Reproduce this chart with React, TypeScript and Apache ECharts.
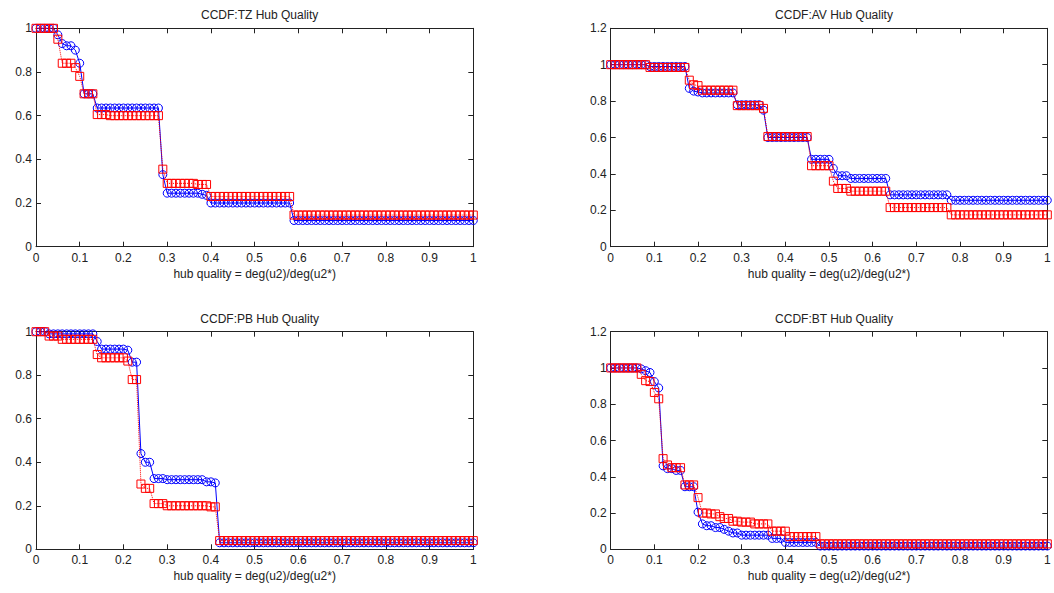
import React, { useEffect, useRef } from 'react';
import * as echarts from 'echarts';

// x sample positions (hub quality)
const hubQuality = [
  0, 0.01, 0.02, 0.03, 0.04, 0.05, 0.06, 0.07, 0.08, 0.09,
  0.1, 0.11, 0.12, 0.13, 0.14, 0.15, 0.16, 0.17, 0.18, 0.19,
  0.2, 0.21, 0.22, 0.23, 0.24, 0.25, 0.26, 0.27, 0.28, 0.29,
  0.3, 0.31, 0.32, 0.33, 0.34, 0.35, 0.36, 0.37, 0.38, 0.39,
  0.4, 0.41, 0.42, 0.43, 0.44, 0.45, 0.46, 0.47, 0.48, 0.49,
  0.5, 0.51, 0.52, 0.53, 0.54, 0.55, 0.56, 0.57, 0.58, 0.59,
  0.6, 0.61, 0.62, 0.63, 0.64, 0.65, 0.66, 0.67, 0.68, 0.69,
  0.7, 0.71, 0.72, 0.73, 0.74, 0.75, 0.76, 0.77, 0.78, 0.79,
  0.8, 0.81, 0.82, 0.83, 0.84, 0.85, 0.86, 0.87, 0.88, 0.89,
  0.9, 0.91, 0.92, 0.93, 0.94, 0.95, 0.96, 0.97, 0.98, 0.99,
  1,
];

const tzBlue = [
  1, 1, 1, 1, 1, 0.97, 0.93, 0.92, 0.92, 0.9,
  0.84, 0.7, 0.7, 0.7, 0.635, 0.635, 0.635, 0.635, 0.635, 0.635,
  0.635, 0.635, 0.635, 0.635, 0.635, 0.635, 0.635, 0.635, 0.635, 0.33,
  0.245, 0.245, 0.245, 0.245, 0.245, 0.245, 0.245, 0.245, 0.24, 0.235,
  0.2, 0.2, 0.2, 0.2, 0.2, 0.2, 0.2, 0.2, 0.2, 0.2,
  0.2, 0.2, 0.2, 0.2, 0.2, 0.2, 0.2, 0.2, 0.2, 0.12,
  0.12, 0.12, 0.12, 0.12, 0.12, 0.12, 0.12, 0.12, 0.12, 0.12,
  0.12, 0.12, 0.12, 0.12, 0.12, 0.12, 0.12, 0.12, 0.12, 0.12,
  0.12, 0.12, 0.12, 0.12, 0.12, 0.12, 0.12, 0.12, 0.12, 0.12,
  0.12, 0.12, 0.12, 0.12, 0.12, 0.12, 0.12, 0.12, 0.12, 0.12,
  0.12,
];
const tzRed = [
  1, 1, 1, 1, 1, 0.95, 0.84, 0.84, 0.84, 0.82,
  0.78, 0.7, 0.7, 0.7, 0.605, 0.605, 0.605, 0.6, 0.6, 0.6,
  0.6, 0.6, 0.6, 0.6, 0.6, 0.6, 0.6, 0.6, 0.6, 0.355,
  0.29, 0.29, 0.29, 0.29, 0.29, 0.29, 0.29, 0.285, 0.285, 0.285,
  0.23, 0.23, 0.23, 0.23, 0.23, 0.23, 0.23, 0.23, 0.23, 0.23,
  0.23, 0.23, 0.23, 0.23, 0.23, 0.23, 0.23, 0.23, 0.23, 0.145,
  0.145, 0.145, 0.145, 0.145, 0.145, 0.145, 0.145, 0.145, 0.145, 0.145,
  0.145, 0.145, 0.145, 0.145, 0.145, 0.145, 0.145, 0.145, 0.145, 0.145,
  0.145, 0.145, 0.145, 0.145, 0.145, 0.145, 0.145, 0.145, 0.145, 0.145,
  0.145, 0.145, 0.145, 0.145, 0.145, 0.145, 0.145, 0.145, 0.145, 0.145,
  0.145,
];

const avBlue = [
  1, 1, 1, 1, 1, 1, 1, 1, 1, 0.99,
  0.99, 0.99, 0.99, 0.99, 0.99, 0.99, 0.99, 0.99, 0.87, 0.855,
  0.85, 0.845, 0.845, 0.845, 0.845, 0.845, 0.845, 0.845, 0.845, 0.78,
  0.78, 0.78, 0.78, 0.78, 0.78, 0.75, 0.6, 0.6, 0.6, 0.6,
  0.6, 0.6, 0.6, 0.6, 0.6, 0.6, 0.48, 0.48, 0.48, 0.48,
  0.48, 0.43, 0.39, 0.39, 0.39, 0.375, 0.375, 0.375, 0.375, 0.375,
  0.375, 0.375, 0.375, 0.375, 0.285, 0.285, 0.285, 0.285, 0.285, 0.285,
  0.285, 0.285, 0.285, 0.285, 0.285, 0.285, 0.285, 0.285, 0.255, 0.255,
  0.255, 0.255, 0.255, 0.255, 0.255, 0.255, 0.255, 0.255, 0.255, 0.255,
  0.255, 0.255, 0.255, 0.255, 0.255, 0.255, 0.255, 0.255, 0.255, 0.255,
  0.255,
];
const avRed = [
  1, 1, 1, 1, 1, 1, 1, 1, 1, 0.985,
  0.985, 0.985, 0.985, 0.985, 0.985, 0.985, 0.985, 0.985, 0.915, 0.89,
  0.885, 0.86, 0.86, 0.86, 0.86, 0.86, 0.86, 0.86, 0.86, 0.775,
  0.775, 0.775, 0.775, 0.775, 0.775, 0.76, 0.605, 0.605, 0.605, 0.605,
  0.605, 0.605, 0.605, 0.605, 0.605, 0.605, 0.445, 0.445, 0.445, 0.445,
  0.445, 0.36, 0.32, 0.32, 0.32, 0.305, 0.305, 0.305, 0.305, 0.305,
  0.305, 0.305, 0.305, 0.305, 0.215, 0.215, 0.215, 0.215, 0.215, 0.215,
  0.215, 0.215, 0.215, 0.215, 0.215, 0.215, 0.215, 0.215, 0.175, 0.175,
  0.175, 0.175, 0.175, 0.175, 0.175, 0.175, 0.175, 0.175, 0.175, 0.175,
  0.175, 0.175, 0.175, 0.175, 0.175, 0.175, 0.175, 0.175, 0.175, 0.175,
  0.175,
];

const pbBlue = [
  1, 1, 1, 0.99, 0.99, 0.99, 0.99, 0.99, 0.99, 0.99,
  0.99, 0.99, 0.99, 0.99, 0.955, 0.92, 0.92, 0.92, 0.92, 0.92,
  0.92, 0.915, 0.86, 0.86, 0.44, 0.4, 0.4, 0.325, 0.325, 0.325,
  0.32, 0.32, 0.32, 0.32, 0.32, 0.32, 0.32, 0.32, 0.32, 0.31,
  0.31, 0.305, 0.03, 0.03, 0.03, 0.03, 0.03, 0.03, 0.03, 0.03,
  0.03, 0.03, 0.03, 0.03, 0.03, 0.03, 0.03, 0.03, 0.03, 0.03,
  0.03, 0.03, 0.03, 0.03, 0.03, 0.03, 0.03, 0.03, 0.03, 0.03,
  0.03, 0.03, 0.03, 0.03, 0.03, 0.03, 0.03, 0.03, 0.03, 0.03,
  0.03, 0.03, 0.03, 0.03, 0.03, 0.03, 0.03, 0.03, 0.03, 0.03,
  0.03, 0.03, 0.03, 0.03, 0.03, 0.03, 0.03, 0.03, 0.03, 0.03,
  0.03,
];
const pbRed = [
  1, 1, 1, 0.98, 0.98, 0.98, 0.965, 0.965, 0.965, 0.965,
  0.965, 0.965, 0.965, 0.965, 0.895, 0.88, 0.88, 0.88, 0.88, 0.88,
  0.88, 0.865, 0.78, 0.78, 0.3, 0.28, 0.28, 0.21, 0.21, 0.21,
  0.2, 0.2, 0.2, 0.2, 0.2, 0.2, 0.2, 0.2, 0.2, 0.2,
  0.195, 0.195, 0.04, 0.04, 0.04, 0.04, 0.04, 0.04, 0.04, 0.04,
  0.04, 0.04, 0.04, 0.04, 0.04, 0.04, 0.04, 0.04, 0.04, 0.04,
  0.04, 0.04, 0.04, 0.04, 0.04, 0.04, 0.04, 0.04, 0.04, 0.04,
  0.04, 0.04, 0.04, 0.04, 0.04, 0.04, 0.04, 0.04, 0.04, 0.04,
  0.04, 0.04, 0.04, 0.04, 0.04, 0.04, 0.04, 0.04, 0.04, 0.04,
  0.04, 0.04, 0.04, 0.04, 0.04, 0.04, 0.04, 0.04, 0.04, 0.04,
  0.04,
];

const btBlue = [
  1, 1, 1, 1, 1, 1, 1, 0.995, 0.985, 0.975,
  0.925, 0.89, 0.46, 0.445, 0.445, 0.435, 0.435, 0.345, 0.345, 0.345,
  0.205, 0.14, 0.13, 0.13, 0.12, 0.12, 0.11, 0.1, 0.09, 0.09,
  0.078, 0.078, 0.078, 0.078, 0.078, 0.078, 0.078, 0.06, 0.06, 0.06,
  0.038, 0.038, 0.038, 0.038, 0.038, 0.038, 0.038, 0.038, 0.018, 0.018,
  0.018, 0.018, 0.018, 0.018, 0.018, 0.018, 0.018, 0.018, 0.018, 0.018,
  0.018, 0.018, 0.018, 0.018, 0.018, 0.018, 0.018, 0.018, 0.018, 0.018,
  0.018, 0.018, 0.018, 0.018, 0.018, 0.018, 0.018, 0.018, 0.018, 0.018,
  0.018, 0.018, 0.018, 0.018, 0.018, 0.018, 0.018, 0.018, 0.018, 0.018,
  0.018, 0.018, 0.018, 0.018, 0.018, 0.018, 0.018, 0.018, 0.018, 0.018,
  0.018,
];
const btRed = [
  1, 1, 1, 1, 1, 1, 1, 0.965, 0.93, 0.925,
  0.865, 0.83, 0.5, 0.465, 0.45, 0.45, 0.45, 0.355, 0.355, 0.355,
  0.285, 0.2, 0.2, 0.195, 0.195, 0.18, 0.17, 0.17, 0.155, 0.155,
  0.15, 0.15, 0.15, 0.14, 0.14, 0.14, 0.14, 0.1, 0.1, 0.1,
  0.1, 0.07, 0.07, 0.07, 0.07, 0.07, 0.07, 0.07, 0.03, 0.03,
  0.03, 0.03, 0.03, 0.03, 0.03, 0.03, 0.03, 0.03, 0.03, 0.03,
  0.03, 0.03, 0.03, 0.03, 0.03, 0.03, 0.03, 0.03, 0.03, 0.03,
  0.03, 0.03, 0.03, 0.03, 0.03, 0.03, 0.03, 0.03, 0.03, 0.03,
  0.03, 0.03, 0.03, 0.03, 0.03, 0.03, 0.03, 0.03, 0.03, 0.03,
  0.03, 0.03, 0.03, 0.03, 0.03, 0.03, 0.03, 0.03, 0.03, 0.03,
  0.03,
];

const titles = ['CCDF:TZ Hub Quality', 'CCDF:AV Hub Quality', 'CCDF:PB Hub Quality', 'CCDF:BT Hub Quality'];
const blueSeries = [tzBlue, avBlue, pbBlue, btBlue];
const redSeries = [tzRed, avRed, pbRed, btRed];
const yMaxes = [1, 1.2, 1, 1.2];
const xTickLabels = ['0', '0.1', '0.2', '0.3', '0.4', '0.5', '0.6', '0.7', '0.8', '0.9', '1'];
const yTickLabels = ['0', '0.2', '0.4', '0.6', '0.8', '1', '1.2'];
const xAxisName = 'hub quality = deg(u2)/deg(u2*)';

const FONT = "'Liberation Sans', Arial, Helvetica, sans-serif";
const TEXT = '#222';
const AXIS = '#222';

const grids = [
  { left: 36, top: 28.3, width: 437.3, height: 218.4 },
  { left: 610.7, top: 28.3, width: 436.6, height: 218.4 },
  { left: 36, top: 331.7, width: 437.3, height: 217.6 },
  { left: 610.7, top: 331.7, width: 436.6, height: 217.6 },
];

export default function App() {
  const ref = useRef<HTMLDivElement>(null);
  useEffect(() => {
    if (!ref.current) return;
    const chart = echarts.init(ref.current, undefined, { renderer: 'svg' });
    const xAxes: any[] = [];
    const yAxes: any[] = [];
    const series: any[] = [];
    const title: any[] = [];
    grids.forEach((g, i) => {
      const axisLine = { show: true, onZero: false, lineStyle: { color: AXIS, width: 1 } };
      const axisTick = { show: true, inside: true, length: 5, lineStyle: { color: AXIS, width: 1 } };
      const labelStyle = { fontFamily: FONT, fontSize: 12, color: TEXT };
      xAxes.push({
        type: 'value', gridIndex: i, position: 'bottom', min: 0, max: 1, interval: 0.1,
        axisLine, axisTick, splitLine: { show: false },
        axisLabel: { ...labelStyle, margin: 5, formatter: (v: number) => xTickLabels[Math.round(v * 10)] },
        name: xAxisName, nameLocation: 'middle', nameGap: 21,
        nameTextStyle: { fontFamily: FONT, fontSize: 12, color: TEXT },
      });
      xAxes.push({
        type: 'value', gridIndex: i, position: 'top', min: 0, max: 1, interval: 0.1,
        axisLine, axisTick, splitLine: { show: false }, axisLabel: { show: false },
      });
      yAxes.push({
        type: 'value', gridIndex: i, position: 'left', min: 0, max: yMaxes[i], interval: 0.2,
        axisLine, axisTick, splitLine: { show: false },
        axisLabel: { ...labelStyle, margin: 4, formatter: (v: number) => yTickLabels[Math.round(v * 5)] },
      });
      yAxes.push({
        type: 'value', gridIndex: i, position: 'right', min: 0, max: yMaxes[i], interval: 0.2,
        axisLine, axisTick, splitLine: { show: false }, axisLabel: { show: false },
      });
      title.push({
        text: titles[i], left: g.left + g.width / 2, top: g.top - 24, textAlign: 'center',
        textStyle: { fontFamily: FONT, fontSize: 12, fontWeight: 'normal', color: TEXT },
      });
      series.push({
        type: 'line', xAxisIndex: i * 2, yAxisIndex: i * 2,
        data: hubQuality.map((x, k) => [x, blueSeries[i][k]]),
        symbol: 'circle', symbolSize: 8, showSymbol: true, showAllSymbol: true, clip: false,
        lineStyle: { color: '#0000ff', width: 1 },
        itemStyle: { color: 'rgba(0,0,0,0)', borderColor: '#0000ff', borderWidth: 1 },
        emphasis: { disabled: true }, z: 2,
      });
      series.push({
        type: 'line', xAxisIndex: i * 2, yAxisIndex: i * 2,
        data: hubQuality.map((x, k) => [x, redSeries[i][k]]),
        symbol: 'rect', symbolSize: 8, showSymbol: true, showAllSymbol: true, clip: false,
        lineStyle: { color: '#ff0000', width: 1, type: 'dotted' },
        itemStyle: { color: 'rgba(0,0,0,0)', borderColor: '#ff0000', borderWidth: 1 },
        emphasis: { disabled: true }, z: 3,
      });
    });
    chart.setOption({
      animation: false,
      backgroundColor: '#ffffff',
      title,
      grid: grids.map((g) => ({ ...g, containLabel: false })),
      xAxis: xAxes,
      yAxis: yAxes,
      series,
    });
    return () => chart.dispose();
  }, []);
  return (
    <div
      ref={ref}
      style={{ position: 'fixed', left: 0, top: 0, width: 1054, height: 593, background: '#fff' }}
    />
  );
}
